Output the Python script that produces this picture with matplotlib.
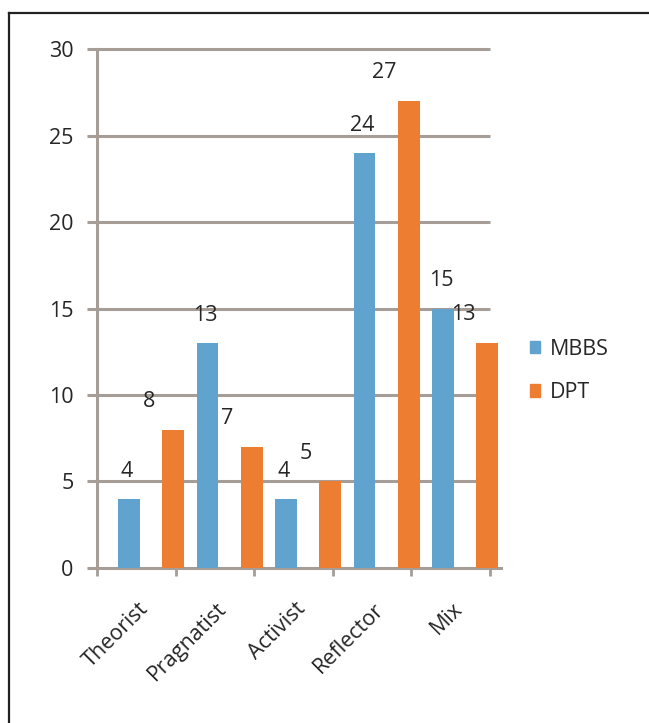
import matplotlib.pyplot as plt
from matplotlib.patches import Patch
from matplotlib.lines import Line2D

categories = ['Theorist', 'Pragnatist', 'Activist', 'Reflector', 'Mix']
mbbs = [4, 13, 4, 24, 15]
dpt = [8, 7, 5, 27, 13]
yticks = [0, 5, 10, 15, 20, 25, 30]

blue = '#61A3CF'
orange = '#ED7D31'
gray = '#A59D96'
txt = '#262626'

plt.rcParams['font.family'] = ['Open Sans', 'DejaVu Sans']

fig = plt.figure(figsize=(6.49, 7.23), dpi=100)
ax = fig.add_axes([0.1499, 0.2144, 0.6217, 0.7178])

x = list(range(len(categories)))
ax.bar([i - 0.096 for i in x], mbbs, width=0.28, color=blue, zorder=3)
ax.bar([i + 0.47 for i in x], dpt, width=0.28, color=orange, zorder=3)

# value labels, offset up and (for DPT) to the left like the original
for i, v in enumerate(mbbs):
    ax.annotate(str(v), (i - 0.096, v), xytext=(-1.5, 20), textcoords='offset points',
                ha='center', va='center', fontsize=15.5, color=txt, zorder=4)
for i, v in enumerate(dpt):
    ax.annotate(str(v), (i + 0.47, v), xytext=(-17.5, 20.5), textcoords='offset points',
                ha='center', va='center', fontsize=15.5, color=txt, zorder=4)

# gridlines
ax.hlines(yticks[1:], -0.5, 4.5, colors=gray, linewidth=2.2, zorder=1, clip_on=False)

ax.set_xlim(-0.5, 4.64)
ax.set_ylim(0, 30)
for s in ['top', 'right']:
    ax.spines[s].set_visible(False)
for s in ['left', 'bottom']:
    ax.spines[s].set_color(gray)
    ax.spines[s].set_linewidth(2.2)
ax.spines['left'].set_zorder(2)

ax.set_yticks(yticks)
ax.tick_params(axis='y', length=7, width=2.2, color=gray, pad=10, labelsize=15.5, labelcolor=txt)
ax.set_xticks([i - 0.5 for i in range(len(categories) + 1)])
ax.set_xticklabels([])
ax.tick_params(axis='x', length=6, width=2, color=gray)

for i, c in enumerate(categories):
    ax.annotate(c, (i, 0), xytext=(1, -22), textcoords='offset points',
                ha='right', va='top', rotation=45, rotation_mode='anchor',
                fontsize=15.5, color=txt, annotation_clip=False)

handles = [Patch(color=blue, label='MBBS'), Patch(color=orange, label='DPT')]
fig.legend(handles=handles, loc='center left', bbox_to_anchor=(0.816, 0.487),
           frameon=False, fontsize=15.5, handlelength=0.5, handleheight=0.5,
           handletextpad=0.45, labelspacing=1.05, borderpad=0, borderaxespad=0,
           labelcolor=txt)

# frame lines of the original picture
fig.add_artist(Line2D([0.0146, 1.0], [0.9827, 0.9827], color='#222222', linewidth=1.6,
                      transform=fig.transFigure))
fig.add_artist(Line2D([0.0146, 0.0146], [0.0, 0.9827], color='#222222', linewidth=1.6,
                      transform=fig.transFigure))

fig.savefig('out.png', dpi=100)
